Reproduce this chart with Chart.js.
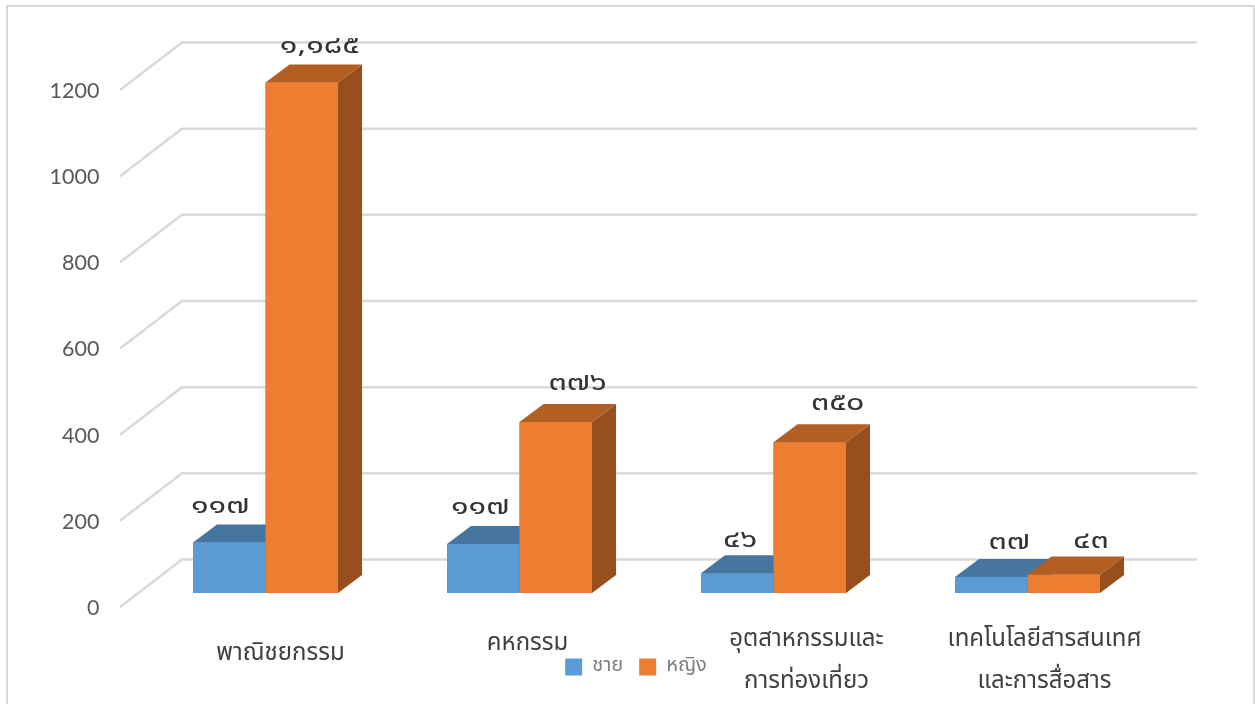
<!DOCTYPE html>
<html lang="th">
<head>
<meta charset="utf-8">
<title>chart</title>
<script src="https://cdn.jsdelivr.net/npm/chart.js@4/dist/chart.umd.js"></script>
<style>
  html, body { margin: 0; padding: 0; background: #fff; overflow: hidden; }
  canvas { display: block; }
</style>
</head>
<body>
<canvas id="barChart" width="1255" height="704"></canvas>
<script>
// data
var categories = [
    ["พาณิชยกรรม"],
    ["คหกรรม"],
    ["อุตสาหกรรมและ", "การท่องเที่ยว"],
    ["เทคโนโลยีสารสนเทศ", "และการสื่อสาร"]
];
var maleValues = [117, 114, 46, 37];
var femaleValues = [1185, 397, 350, 43];
var maleLabels = ["๑๑๗", "๑๑๗", "๔๖", "๓๗"];
var femaleLabels = ["๑,๑๘๕", "๓๗๖", "๓๕๐", "๔๓"];
var tickValues = [0, 200, 400, 600, 800, 1000, 1200];

// where the text sits, relative to the bar or category it belongs to
var maleLabelShift = [[-9, -34], [-3, -35], [3, -31], [18, -33]];
var femaleLabelShift = [[18, -34], [22, -37], [28, -37], [27, -31]];
var categoryShift = [[15, 62], [8, 52], [33, 48], [17, 48]];

var thaiFont = '"Noto Sans Thai", "Noto Sans", "Liberation Sans", sans-serif';
var depthX = 24, depthY = 18;
var gridColor = "#d9d9d9";

function poly(ctx, pts, color) {
    ctx.fillStyle = color;
    ctx.beginPath();
    ctx.moveTo(pts[0][0], pts[0][1]);
    for (var i = 1; i < pts.length; i++) ctx.lineTo(pts[i][0], pts[i][1]);
    ctx.closePath();
    ctx.fill();
}

var frame3d = {
    id: "frame3d",
    beforeDatasetsDraw: function(chart) {
        var ctx = chart.ctx;
        var yScale = chart.scales.y;
        ctx.save();
        // chart frame
        ctx.strokeStyle = gridColor;
        ctx.lineWidth = 2;
        ctx.beginPath();
        ctx.moveTo(7, 704);
        ctx.lineTo(7, 6);
        ctx.lineTo(1254, 6);
        ctx.lineTo(1254, 704);
        ctx.stroke();
        // floor-to-wall grid
        ctx.lineWidth = 2.5;
        tickValues.forEach(function(v) {
            var y = yScale.getPixelForValue(v);
            ctx.beginPath();
            ctx.moveTo(120, y + 14);
            ctx.lineTo(182, y - 33.5);
            ctx.lineTo(1197, y - 33.5);
            ctx.stroke();
        });
        ctx.restore();
    },
    // Chart.js paints the first dataset last, here the later series has to end up in front
    afterDatasetsDraw: function(chart) {
        var ctx = chart.ctx;
        var base = chart.scales.y.getPixelForValue(0);
        chart.data.datasets.forEach(function(ds, d) {
            chart.getDatasetMeta(d).data.forEach(function(bar) {
                var left = bar.x - bar.width / 2;
                var right = bar.x + bar.width / 2;
                bar.draw(ctx);
                poly(ctx, [[right, base], [right + depthX, base - depthY], [right + depthX, bar.y - depthY], [right, bar.y]], ds.sideColor);
                poly(ctx, [[left, bar.y], [left + depthX, bar.y - depthY], [right + depthX, bar.y - depthY], [right, bar.y]], ds.topColor);
            });
        });
    },
    afterDraw: function(chart) {
        var ctx = chart.ctx;
        var xScale = chart.scales.x;
        ctx.save();
        ctx.textAlign = "center";
        ctx.textBaseline = "middle";

        // value labels, stretched a little because the original digits are wider
        ctx.fillStyle = "#333333";
        ctx.font = "24px " + thaiFont;
        [[maleLabels, maleLabelShift], [femaleLabels, femaleLabelShift]].forEach(function(s, d) {
            chart.getDatasetMeta(d).data.forEach(function(bar, i) {
                ctx.save();
                ctx.translate(bar.x + s[1][i][0], bar.y + s[1][i][1]);
                ctx.scale(1.35, 1);
                ctx.fillText(s[0][i], 0, 0);
                ctx.restore();
            });
        });

        // category labels
        ctx.fillStyle = "#404040";
        ctx.font = "24px " + thaiFont;
        categories.forEach(function(lines, i) {
            var x = xScale.getPixelForTick(i) + categoryShift[i][0];
            var y = chart.chartArea.bottom + categoryShift[i][1];
            lines.forEach(function(line, n) {
                ctx.fillText(line, x, y + n * 42);
            });
        });
        ctx.restore();
    }
};

new Chart(document.getElementById("barChart").getContext("2d"), {
    type: "bar",
    plugins: [frame3d],
    data: {
        labels: categories,
        datasets: [
            { label: "ชาย", data: maleValues, backgroundColor: "#5b9bd5", topColor: "#46759f", sideColor: "#3e6a94" },
            { label: "หญิง", data: femaleValues, backgroundColor: "#ed7d31", topColor: "#b35e23", sideColor: "#964f1d" }
        ]
    },
    options: {
        responsive: false,
        animation: false,
        layout: { padding: { top: 76, left: 17, right: 0, bottom: 17 } },
        datasets: { bar: { categoryPercentage: 0.571, barPercentage: 1 } },
        scales: {
            x: {
                grid: { display: false },
                border: { display: false },
                ticks: { display: false },
                afterFit: function(scale) { scale.height = 48; }
            },
            y: {
                min: 0,
                max: 1200,
                grid: { display: false },
                border: { display: false },
                afterFit: function(scale) { scale.width = 121.5; },
                ticks: {
                    stepSize: 200,
                    padding: 31,
                    labelOffset: 15,
                    color: "#595959",
                    font: { family: "Lato", size: 21.5 },
                    callback: function(value) { return String(value); }
                }
            },
            // empty gutter on the right, so the legend stays centred where it should
            gutter: {
                position: "right",
                display: true,
                grid: { display: false },
                border: { display: false },
                ticks: { display: false },
                afterFit: function(scale) { scale.width = 100.5; }
            }
        },
        plugins: {
            tooltip: { enabled: false },
            legend: {
                position: "bottom",
                labels: {
                    boxWidth: 17,
                    boxHeight: 17,
                    padding: 16,
                    color: "#7f7f7f",
                    font: { family: thaiFont, size: 20 }
                }
            }
        }
    }
});
</script>
</body>
</html>
